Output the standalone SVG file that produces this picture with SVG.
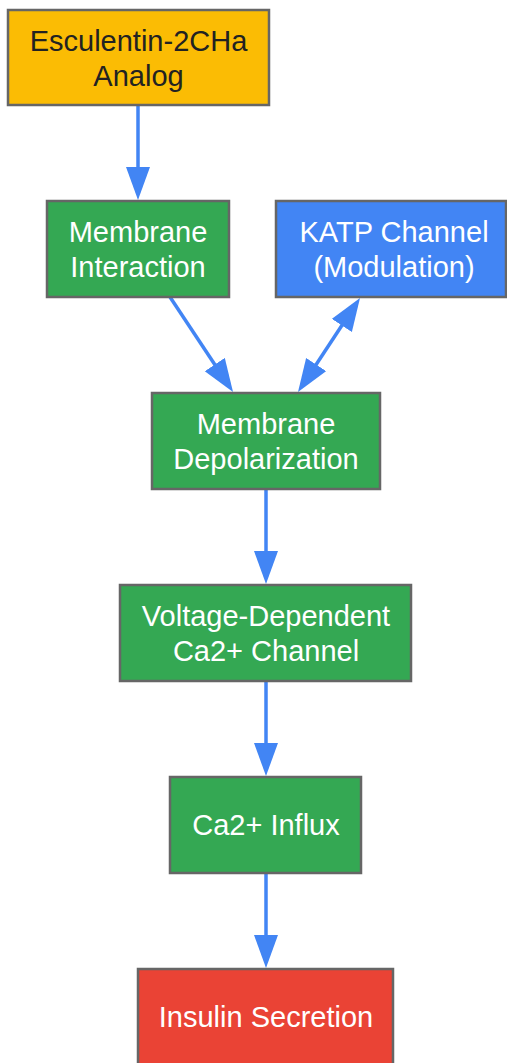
<svg xmlns="http://www.w3.org/2000/svg" width="507" height="1063" viewBox="0 0 507 1063">
<style>
.n{stroke:#666666;stroke-width:2.5}
.t{font-family:"Liberation Sans",Arial,sans-serif;font-size:29px;text-anchor:middle;fill:#ffffff}
.d{fill:#222222}
.e{fill:none;stroke:#4285F4;stroke-width:3.5}
</style>
<defs>
<marker id="ah" markerUnits="userSpaceOnUse" markerWidth="34" markerHeight="26" refX="23" refY="12" orient="auto-start-reverse" viewBox="0 0 34 26">
<path d="M0,0 L33,12 L0,24 z" fill="#4285F4"/>
</marker>
</defs>
<rect width="507" height="1063" fill="#ffffff"/>
<g id="connectors">
<path class="e" d="M138,105 L138,190" marker-end="url(#ah)"/>
<path class="e" d="M170,297 L227.5,383.7" marker-end="url(#ah)"/>
<path class="e" d="M354.5,306.3 L303.5,383.7" marker-start="url(#ah)" marker-end="url(#ah)"/>
<path class="e" d="M266,489 L266,574" marker-end="url(#ah)"/>
<path class="e" d="M266,681 L266,766" marker-end="url(#ah)"/>
<path class="e" d="M266,873 L266,958" marker-end="url(#ah)"/>
</g>
<g id="n1">
<rect class="n" x="8" y="10" width="261" height="95" fill="#FBBC04"/>
<text class="t d" x="138.5" y="51">Esculentin-2CHa</text>
<text class="t d" x="138.5" y="86">Analog</text>
</g>
<g id="n2">
<rect class="n" x="47" y="201" width="182" height="96" fill="#34A853"/>
<text class="t" x="138" y="242">Membrane</text>
<text class="t" x="138" y="277">Interaction</text>
</g>
<g id="n3">
<rect class="n" x="276" y="201" width="230" height="96" fill="#4285F4"/>
<text class="t" x="394" y="242">KATP Channel</text>
<text class="t" x="394" y="277">(Modulation)</text>
</g>
<g id="n4">
<rect class="n" x="152" y="393" width="228" height="96" fill="#34A853"/>
<text class="t" x="266" y="434">Membrane</text>
<text class="t" x="266" y="469">Depolarization</text>
</g>
<g id="n5">
<rect class="n" x="120" y="585" width="291" height="96" fill="#34A853"/>
<text class="t" x="266" y="626">Voltage-Dependent</text>
<text class="t" x="266" y="661">Ca2+ Channel</text>
</g>
<g id="n6">
<rect class="n" x="170" y="777" width="191" height="96" fill="#34A853"/>
<text class="t" x="266" y="835">Ca2+ Influx</text>
</g>
<g id="n7">
<rect class="n" x="138" y="969" width="255" height="96" fill="#EA4335"/>
<text class="t" x="266" y="1027">Insulin Secretion</text>
</g>
</svg>
